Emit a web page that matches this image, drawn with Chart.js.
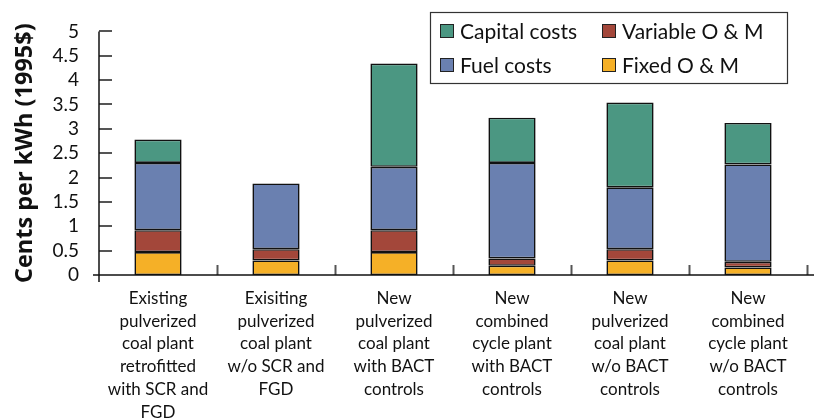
<!DOCTYPE html>
<html><head><meta charset="utf-8">
<script src="https://cdn.jsdelivr.net/npm/chart.js@4.4.1/dist/chart.umd.min.js"></script>
<style>html,body{margin:0;padding:0;background:#fff}#wrap{width:814px;height:418px}</style>
</head><body><div id="wrap"><canvas id="c" width="814" height="418"></canvas></div>
<script>
const categories = [
  ["Existing","pulverized","coal plant","retrofitted","with SCR and","FGD"],
  ["Exisiting","pulverized","coal plant","w/o SCR and","FGD"],
  ["New","pulverized","coal plant","with BACT","controls"],
  ["New","combined","cycle plant","with BACT","controls"],
  ["New","pulverized","coal plant","w/o BACT","controls"],
  ["New","combined","cycle plant","w/o BACT","controls"]
];
const fixedOM    = [0.47, 0.30, 0.47, 0.19, 0.30, 0.155];
const variableOM = [0.45, 0.23, 0.45, 0.15, 0.23, 0.115];
const fuelCosts  = [1.38, 1.35, 1.30, 1.96, 1.27, 2.00];
const capitalCosts = [0.48, null, 2.12, 0.93, 1.74, 0.85];
const yTickLabels = ["0","0.5","1","1.5","2","2.5","3","3.5","4","4.5","5"];

const FONT = "Lato, 'Open Sans', sans-serif";
const colors = {cap:'#4b9782', fuel:'#6a80b0', var:'#a3473a', fix:'#f5b027'};

const legendOrder = [[3,1],[2,0]]; // rows: [Capital, Variable], [Fuel, Fixed]

const customPlugin = {
  id: 'custom',
  afterDraw(chart) {
    const ctx = chart.ctx;
    const x = chart.scales.x, y = chart.scales.y;
    const base = y.getPixelForValue(0);
    const top = y.getPixelForValue(5);
    const left = chart.chartArea.left;
    ctx.save();
    ctx.strokeStyle = '#555'; ctx.lineWidth = 2;
    y.ticks.forEach(t => {
      if (t.value === 0) return;
      const py = Math.round(y.getPixelForValue(t.value));
      ctx.beginPath(); ctx.moveTo(left, py); ctx.lineTo(left + 13, py); ctx.stroke();
    });
    const n = categories.length;
    const half = (x.getPixelForValue(1) - x.getPixelForValue(0)) / 2;
    for (let i = 1; i <= n; i++) {
      const px = Math.round(x.getPixelForValue(i - 1) + half) + 0.5;
      ctx.beginPath(); ctx.moveTo(px, base - 10); ctx.lineTo(px, base); ctx.stroke();
    }
    ctx.strokeStyle = '#111'; ctx.lineWidth = 1.5;
    ctx.beginPath(); ctx.moveTo(left, top); ctx.lineTo(left, base + 7); ctx.stroke();
    ctx.beginPath(); ctx.moveTo(left - 6, base); ctx.lineTo(chart.width, base); ctx.stroke();
    // legend
    ctx.strokeStyle = '#333'; ctx.lineWidth = 1.2;
    ctx.strokeRect(430.5, 12.5, 357, 71);
    ctx.font = "21px " + FONT;
    ctx.textBaseline = 'middle'; ctx.textAlign = 'left';
    const colX = [440, 602], rowY = [31, 65];
    legendOrder.forEach((row, r) => row.forEach((di, c) => {
      const ds = chart.data.datasets[di];
      ctx.fillStyle = ds.backgroundColor;
      ctx.fillRect(colX[c], rowY[r] - 7, 14, 14);
      ctx.strokeStyle = '#222'; ctx.lineWidth = 1;
      ctx.strokeRect(colX[c] + 0.5, rowY[r] - 6.5, 13, 13);
      ctx.fillStyle = '#111';
      ctx.fillText(ds.label, colX[c] + 20, rowY[r] + 1);
    }));
    ctx.restore();
  }
};

const mk = (label, data, color) => ({
  label, data, backgroundColor: color, borderColor: '#111', borderWidth: 1.6,
  borderSkipped: false, barPercentage: 0.4, categoryPercentage: 1.0
});

new Chart(document.getElementById('c'), {
  type: 'bar',
  data: {
    labels: categories,
    datasets: [
      mk('Fixed O & M', fixedOM, colors.fix),
      mk('Variable O & M', variableOM, colors.var),
      mk('Fuel costs', fuelCosts, colors.fuel),
      mk('Capital costs', capitalCosts, colors.cap)
    ]
  },
  options: {
    responsive: false, animation: false,
    layout: { padding: { top: 17, right: 7, left: 0, bottom: 0 } },
    plugins: { legend: { display: false }, tooltip: { enabled: false } },
    scales: {
      x: {
        stacked: true,
        grid: { display: false, drawTicks: false },
        border: { display: false },
        ticks: { color: '#111', font: { family: FONT, size: 17, lineHeight: 1.34 }, padding: 12, maxRotation: 0, autoSkip: false },
        afterFit(s) { s.height = 143; }
      },
      y: {
        stacked: true, min: 0, max: 5,
        grid: { display: false, drawTicks: false },
        border: { display: false },
        ticks: { color: '#111', font: { family: FONT, size: 19 }, padding: 20,
                 stepSize: 0.5, autoSkip: false,
                 callback: (v, i) => yTickLabels[i] },
        title: { display: true, text: 'Cents per kWh (1995$)', color: '#111',
                 font: { family: "'Open Sans', sans-serif", size: 23.5, weight: 'bold', lineHeight: 1.1 }, padding: { top: 12, bottom: 0 } },
        afterFit(s) { s.width = 99; }
      }
    }
  },
  plugins: [customPlugin]
});
</script></body></html>
